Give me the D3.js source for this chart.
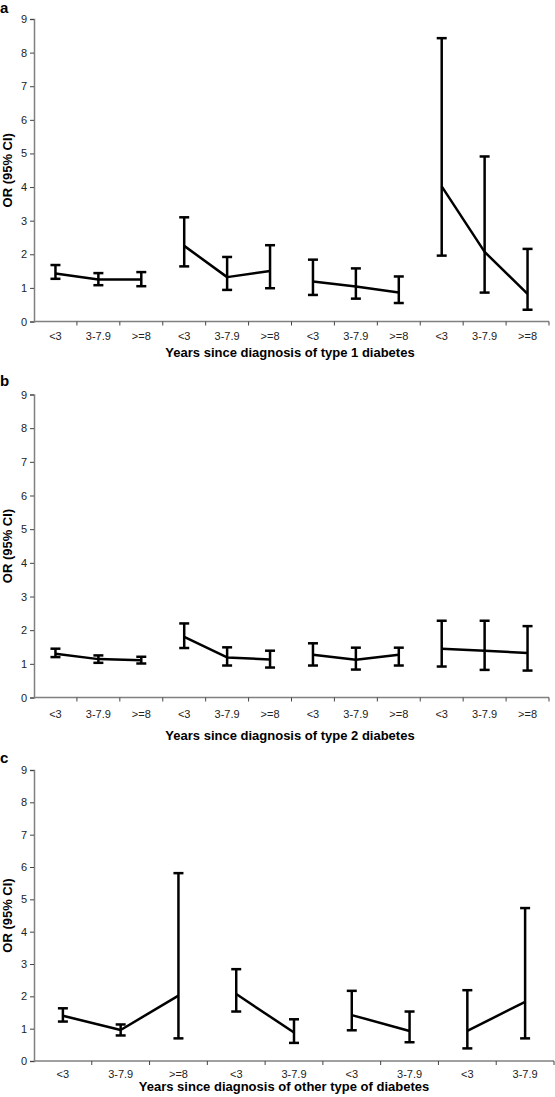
<!DOCTYPE html>
<html><head><meta charset="utf-8">
<script src="https://cdn.jsdelivr.net/npm/d3@7"></script>
<style>
html,body{margin:0;padding:0;background:#fff;}
svg{display:block;font-family:"Liberation Sans",Arial,sans-serif;}
</style></head>
<body><svg id="c" width="555" height="1097"></svg>
<script>
// ---- Data ----
const yTicks = [0,1,2,3,4,5,6,7,8,9];

const catsA = ["<3","3-7.9",">=8","<3","3-7.9",">=8","<3","3-7.9",">=8","<3","3-7.9",">=8"];
const groupA = [0,0,0,1,1,1,2,2,2,3,3,3];
const orA = [1.43,1.25,1.25, 2.25,1.32,1.50, 1.19,1.04,0.86, 4.02,2.07,0.82];
const loA = [1.27,1.08,1.05, 1.64,0.94,0.99, 0.79,0.68,0.55, 1.96,0.86,0.35];
const hiA = [1.68,1.44,1.47, 3.10,1.92,2.27, 1.84,1.58,1.34, 8.43,4.91,2.16];

const catsB = ["<3","3-7.9",">=8","<3","3-7.9",">=8","<3","3-7.9",">=8","<3","3-7.9",">=8"];
const groupB = [0,0,0,1,1,1,2,2,2,3,3,3];
const orB = [1.30,1.14,1.11, 1.80,1.19,1.13, 1.27,1.12,1.27, 1.45,1.39,1.32];
const loB = [1.20,1.03,1.01, 1.47,0.95,0.89, 0.95,0.83,0.95, 0.92,0.82,0.80];
const hiB = [1.45,1.25,1.21, 2.20,1.49,1.39, 1.61,1.48,1.48, 2.28,2.28,2.12];

const catsC = ["<3","3-7.9",">=8","<3","3-7.9","<3","3-7.9","<3","3-7.9"];
const groupC = [0,0,0,1,1,2,2,3,3];
const orC = [1.40,0.96,2.02, 2.07,0.88, 1.42,0.93, 0.93,1.83];
const loC = [1.22,0.79,0.70, 1.53,0.56, 0.95,0.58, 0.39,0.70];
const hiC = [1.63,1.13,5.81, 2.84,1.29, 2.17,1.53, 2.19,4.73];

const panelLabels = ["a","b","c"];
const xTitles = ["Years since diagnosis of type 1 diabetes",
                 "Years since diagnosis of type 2 diabetes",
                 "Years since diagnosis of other type of diabetes"];
const yTitle = "OR (95% CI)";

// ---- Drawing ----
const svg = d3.select("#c");

const panels = [
  {cats:catsA, grp:groupA, or:orA, lo:loA, hi:hiA, top:19, bottom:321.5, right:549, label:panelLabels[0], labelY:13, title:xTitles[0], titleY:357, titleX:290, tickLabY:336},
  {cats:catsB, grp:groupB, or:orB, lo:loB, hi:hiB, top:394.5, bottom:697.5, right:549, label:panelLabels[1], labelY:386, title:xTitles[1], titleY:740, titleX:290, tickLabY:714},
  {cats:catsC, grp:groupC, or:orC, lo:loC, hi:hiC, top:770, bottom:1061, right:554, label:panelLabels[2], labelY:763, title:xTitles[2], titleY:1091, titleX:284, tickLabY:1074}
];

const left = 34;

panels.forEach(p => {
  const g = svg.append("g");
  const idx = p.cats.map((d,i)=>i);
  const x = d3.scaleBand().domain(idx).range([left, p.right]).padding(0);
  const y = d3.scaleLinear().domain([0,9]).range([p.bottom, p.top]);

  // y axis
  const yAx = g.append("g").attr("transform",`translate(${left},0)`)
    .call(d3.axisLeft(y).tickValues(yTicks).tickFormat(d3.format("d")).tickSize(4).tickPadding(3));
  yAx.select(".domain").attr("stroke","#808080").attr("stroke-width",1.5);
  yAx.selectAll(".tick line").attr("stroke","#444");
  yAx.selectAll(".tick text").attr("font-size",11).attr("fill","#222")
     .attr("font-family","Liberation Sans, Arial, sans-serif");

  // x axis labels at category centers
  const xAx = g.append("g").attr("transform",`translate(0,${p.bottom})`)
    .call(d3.axisBottom(x).tickFormat(i=>p.cats[i]).tickSize(0).tickPadding(0));
  xAx.select(".domain").remove();
  xAx.selectAll(".tick text").attr("font-size",11).attr("fill","#222")
     .attr("y", p.tickLabY - p.bottom).attr("dy","0.35em")
     .attr("font-family","Liberation Sans, Arial, sans-serif");

  // x axis line
  g.append("line").attr("x1",left).attr("x2",p.right).attr("y1",p.bottom).attr("y2",p.bottom)
    .attr("stroke","#808080").attr("stroke-width",1.5);
  // boundary ticks between categories
  const bounds = idx.map(i=>x(i)+x.bandwidth());
  g.selectAll("line.bt").data(bounds).join("line").attr("class","bt")
    .attr("x1",d=>d).attr("x2",d=>d).attr("y1",p.bottom).attr("y2",p.bottom+4)
    .attr("stroke","#444").attr("stroke-width",1);

  // connecting lines per group
  const groups = d3.groups(idx, i=>p.grp[i]);
  const line = d3.line().x(i=>x(i)+x.bandwidth()/2).y(i=>y(p.or[i]));
  groups.forEach(([k, members]) => {
    g.append("path").attr("d", line(members)).attr("fill","none")
      .attr("stroke","#000").attr("stroke-width",2.5).attr("stroke-linejoin","round");
  });

  // error bars
  const cap = 5;
  idx.forEach(i => {
    const cx = x(i)+x.bandwidth()/2;
    g.append("line").attr("x1",cx).attr("x2",cx).attr("y1",y(p.lo[i])).attr("y2",y(p.hi[i]))
      .attr("stroke","#000").attr("stroke-width",2.5);
    [p.lo[i], p.hi[i]].forEach(v => {
      g.append("line").attr("x1",cx-cap).attr("x2",cx+cap).attr("y1",y(v)).attr("y2",y(v))
        .attr("stroke","#000").attr("stroke-width",2.5);
    });
  });

  // panel label
  svg.append("text").attr("x",0).attr("y",p.labelY).text(p.label)
    .attr("font-size",15).attr("font-weight","bold").attr("fill","#000");

  // x title
  svg.append("text").attr("x", p.titleX).attr("y", p.titleY).attr("text-anchor","middle")
    .attr("font-size",13).attr("font-weight","bold").attr("fill","#000").text(p.title);

  // y title
  const midY = (p.top + p.bottom)/2;
  svg.append("text").attr("transform",`translate(12,${midY}) rotate(-90)`)
    .attr("text-anchor","middle").attr("font-size",13).attr("font-weight","bold")
    .attr("fill","#000").text(yTitle);
});
</script>
</body></html>
